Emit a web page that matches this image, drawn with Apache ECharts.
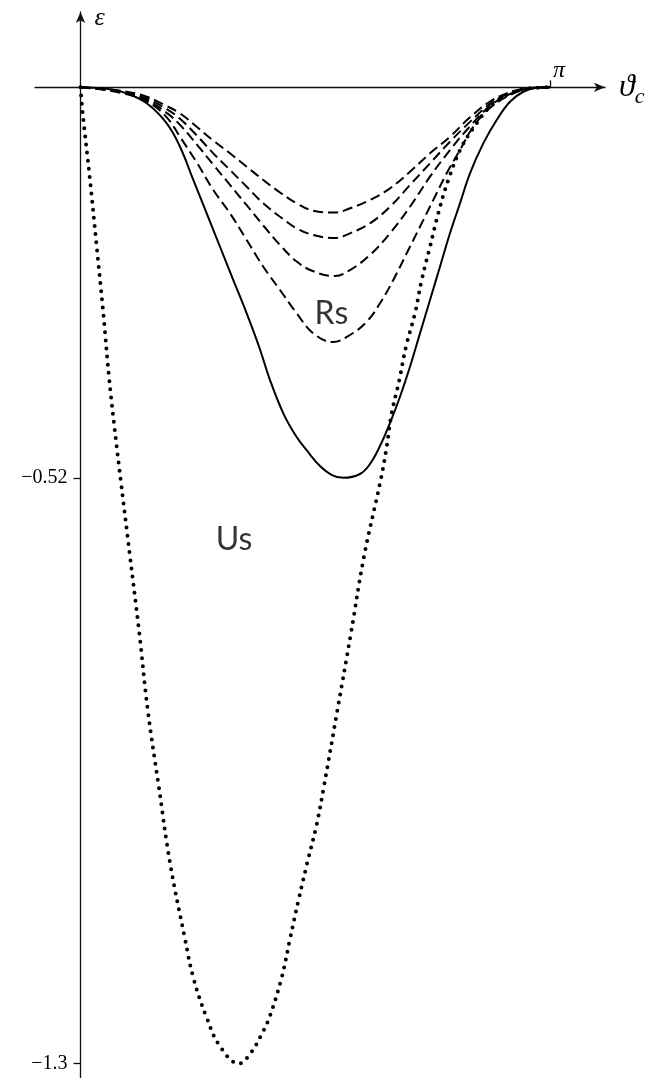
<!DOCTYPE html>
<html>
<head>
<meta charset="utf-8">
<script src="https://cdn.jsdelivr.net/npm/echarts@6/dist/echarts.min.js"></script>
<style>
  html, body { margin: 0; padding: 0; background: #fff; }
  #chart { width: 672px; height: 1078px; }
</style>
</head>
<body>
<div id="chart"></div>
<script>
// Energy curves ε(ϑc) on 0..π, as [ϑc, ε] pairs.
const usCurve = [
  [0, 0], [0.0147, -0.0346], [0.0636, -0.1234], [0.1084, -0.2123], [0.1526, -0.3010],
  [0.1927, -0.3898], [0.2422, -0.4786], [0.2690, -0.5229], [0.3312, -0.6248],
  [0.3934, -0.7267], [0.4496, -0.8287], [0.5232, -0.9304], [0.5988, -1.0325],
  [0.6992, -1.1341], [0.7547, -1.1854], [0.8397, -1.2364], [0.9334, -1.2771],
  [1.0605, -1.3000], [1.1341, -1.2873], [1.2231, -1.2566], [1.2679, -1.2364],
  [1.3462, -1.1854], [1.4018, -1.1341], [1.4573, -1.0835], [1.5175, -1.0325],
  [1.5804, -0.9815], [1.6293, -0.9304], [1.7196, -0.8287], [1.8099, -0.7267],
  [1.8969, -0.6248], [2.0086, -0.5229], [2.0488, -0.4786], [2.0822, -0.4341],
  [2.1331, -0.3898], [2.1779, -0.3454], [2.2381, -0.3009], [2.2830, -0.2566],
  [2.3385, -0.2123], [2.3940, -0.1678], [2.4609, -0.1234], [2.5506, -0.0791],
  [2.6510, -0.0479], [2.7400, -0.0258], [2.8738, -0.0080], [3.0076, -0.0013],
  [3.1416, 0]
];

const rsSolid = [
  [0, 0], [0.1974, -0.0027], [0.3091, -0.0080], [0.4429, -0.0213], [0.5768, -0.0479],
  [0.6658, -0.0791], [0.7547, -0.1234], [0.8444, -0.1678], [0.9334, -0.2123],
  [1.0224, -0.2566], [1.1120, -0.3009], [1.1950, -0.3454], [1.2679, -0.3898],
  [1.3569, -0.4341], [1.4419, -0.4643], [1.5222, -0.4856], [1.6025, -0.5043],
  [1.6828, -0.5163], [1.7584, -0.5200], [1.8701, -0.5149], [1.9370, -0.5016],
  [2.0040, -0.4776], [2.0709, -0.4470], [2.1378, -0.4120], [2.2047, -0.3721],
  [2.2716, -0.3276], [2.3385, -0.2832], [2.4054, -0.2389], [2.4723, -0.1944],
  [2.5392, -0.1545], [2.6061, -0.1145], [2.6951, -0.0746], [2.7848, -0.0435],
  [2.8738, -0.0192], [2.9628, -0.0059], [3.0524, -0.0005], [3.1416, 0]
];

const rsDashed1 = [
  [0, 0], [0.2864, -0.0050], [0.4429, -0.0125], [0.5768, -0.0250], [0.6658, -0.0346],
  [0.7775, -0.0525], [0.8886, -0.0710], [1.0003, -0.0879], [1.1120, -0.1057],
  [1.2231, -0.1234], [1.3349, -0.1400], [1.4466, -0.1545], [1.5577, -0.1643],
  [1.7029, -0.1667], [1.8032, -0.1611], [1.9370, -0.1501], [2.0709, -0.1345],
  [2.2047, -0.1124], [2.3385, -0.0879], [2.4723, -0.0658], [2.6061, -0.0400],
  [2.7400, -0.0190], [2.8738, -0.0065], [3.0076, -0.0009], [3.1416, 0]
];

const rsDashed2 = [
  [0, 0], [0.2700, -0.0055], [0.4429, -0.0149], [0.5768, -0.0290], [0.6658, -0.0420],
  [0.7775, -0.0640], [0.8886, -0.0879], [1.0003, -0.1101], [1.1120, -0.1324],
  [1.2231, -0.1545], [1.3349, -0.1723], [1.4466, -0.1878], [1.5577, -0.1967],
  [1.7029, -0.2007], [1.8032, -0.1944], [1.9370, -0.1811], [2.0709, -0.1590],
  [2.2047, -0.1301], [2.3385, -0.1012], [2.4723, -0.0724], [2.6061, -0.0460],
  [2.7400, -0.0222], [2.8738, -0.0076], [3.0076, -0.0010], [3.1416, 0]
];

const rsDashed3 = [
  [0, 0], [0.2600, -0.0060], [0.4429, -0.0169], [0.5768, -0.0340], [0.6658, -0.0500],
  [0.7775, -0.0760], [0.8886, -0.1030], [1.0003, -0.1300], [1.1120, -0.1570],
  [1.2231, -0.1840], [1.3349, -0.2100], [1.4466, -0.2320], [1.5577, -0.2450],
  [1.7029, -0.2513], [1.8032, -0.2433], [1.9370, -0.2233], [2.0709, -0.1944],
  [2.2047, -0.1590], [2.3385, -0.1190], [2.4723, -0.0835], [2.6061, -0.0520],
  [2.7400, -0.0249], [2.8738, -0.0089], [3.0076, -0.0012], [3.1416, 0]
];

const rsDashed4 = [
  [0, 0], [0.2500, -0.0065], [0.4429, -0.0189], [0.5768, -0.0400], [0.6658, -0.0660],
  [0.7775, -0.1000], [0.8886, -0.1368], [1.0003, -0.1678], [1.1120, -0.2033],
  [1.2231, -0.2389], [1.3349, -0.2699], [1.4466, -0.3009], [1.5577, -0.3276],
  [1.6895, -0.3392], [1.8032, -0.3298], [1.9150, -0.3121], [2.0040, -0.2876],
  [2.0930, -0.2566], [2.1826, -0.2210], [2.2716, -0.1856], [2.3606, -0.1501],
  [2.4503, -0.1145], [2.5392, -0.0835], [2.6282, -0.0525], [2.7400, -0.0276],
  [2.8738, -0.0103], [3.0076, -0.0016], [3.1416, 0]
];

// Axis ticks
const xTickValues = [Math.PI];
const xTickLabels = ['π'];
const yTickValues = [-0.52, -1.3];

// Curve annotations: [ϑc, ε, text]
const curveNotes = [
  [1.679, -0.301, 'Rs'],
  [1.027, -0.603, 'Us']
];

const serif = '"Liberation Serif", "DejaVu Serif", serif';
const ink = '#000';

// Axis ranges; the axes cross at the origin
const X_MIN = -0.3045, X_MAX = 3.5096;
const Y_MIN = -1.3192, Y_MAX = 0.1003;
const GRID = { left: 35, right: 67, top: 12, bottom: 0 };
const W = 672, H = 1078;
const gridW = W - GRID.left - GRID.right;
const gridH = H - GRID.top - GRID.bottom;
// Shift the axes from the grid edges onto the zero lines
const yAxisShift = -gridW * (0 - X_MIN) / (X_MAX - X_MIN);
const xAxisShift = -gridH * (Y_MAX - 0) / (Y_MAX - Y_MIN);

const chart = echarts.init(document.getElementById('chart'), null, { renderer: 'canvas' });

function curve(name, data, lineStyle) {
  return {
    name, type: 'line', data,
    smooth: 0.4,
    showSymbol: false, symbol: 'none',
    silent: true, z: 3,
    lineStyle: Object.assign({ color: ink, width: 2 }, lineStyle)
  };
}

chart.setOption({
  animation: false,
  backgroundColor: '#fff',
  grid: Object.assign({ containLabel: false, outerBoundsMode: 'none' }, GRID),
  xAxis: {
    type: 'value',
    position: 'top',
    offset: xAxisShift,
    min: X_MIN, max: X_MAX,
    splitLine: { show: false },
    axisLine: {
      onZero: false,
      symbol: ['none', 'arrow'], symbolSize: [7, 11],
      lineStyle: { color: '#111', width: 1.3 }
    },
    axisTick: { customValues: xTickValues, length: 7, lineStyle: { color: '#111', width: 1.3 } },
    axisLabel: {
      customValues: xTickValues,
      margin: 5,
      align: 'left', padding: [0, 0, 0, 3],
      formatter: v => xTickLabels[xTickValues.indexOf(v)] || '',
      fontFamily: serif, fontStyle: 'italic', fontSize: 24, color: ink
    },
    name: '{v|ϑ}{c|c}',
    nameLocation: 'end',
    nameGap: 14,
    nameTextStyle: {
      verticalAlign: 'middle',
      rich: {
        v: { fontFamily: serif, fontStyle: 'italic', fontSize: 32, color: ink },
        c: { fontFamily: serif, fontStyle: 'italic', fontSize: 22, color: ink, padding: [20, 0, 0, 0] }
      }
    }
  },
  yAxis: {
    type: 'value',
    position: 'left',
    offset: yAxisShift,
    min: Y_MIN, max: Y_MAX,
    splitLine: { show: false },
    axisLine: {
      onZero: false,
      symbol: ['none', 'arrow'], symbolSize: [7, 11],
      lineStyle: { color: '#111', width: 1.3 }
    },
    axisTick: { customValues: yTickValues, length: 7, lineStyle: { color: '#111', width: 1.3 } },
    axisLabel: {
      customValues: yTickValues,
      margin: 13,
      formatter: v => '\u2212' + Math.abs(v),
      fontFamily: serif, fontSize: 20, color: ink
    },
    name: 'ε',
    nameLocation: 'end',
    nameGap: -19,
    nameTextStyle: {
      fontFamily: serif, fontStyle: 'italic', fontSize: 26, color: ink,
      align: 'left', padding: [0, 0, 0, 14]
    }
  },
  series: [
    curve('Us', usCurve, { width: 4, type: [0, 8.2], cap: 'round' }),
    curve('Rs', rsSolid, { width: 2 }),
    curve('Rs1', rsDashed1, { width: 2, type: [10, 5] }),
    curve('Rs2', rsDashed2, { width: 2, type: [10, 5] }),
    curve('Rs3', rsDashed3, { width: 2, type: [10, 5] }),
    curve('Rs4', rsDashed4, { width: 2, type: [10, 5] }),
    {
      type: 'scatter', silent: true, z: 5,
      symbolSize: 1, itemStyle: { color: 'rgba(0,0,0,0)' },
      data: curveNotes.map(n => ({ value: [n[0], n[1]], name: n[2] })),
      label: {
        show: true, position: 'inside',
        formatter: p => p.name,
        fontFamily: 'Lato, "Open Sans", sans-serif', fontSize: 32, color: ink
      }
    }
  ]
});
</script>
</body>
</html>
